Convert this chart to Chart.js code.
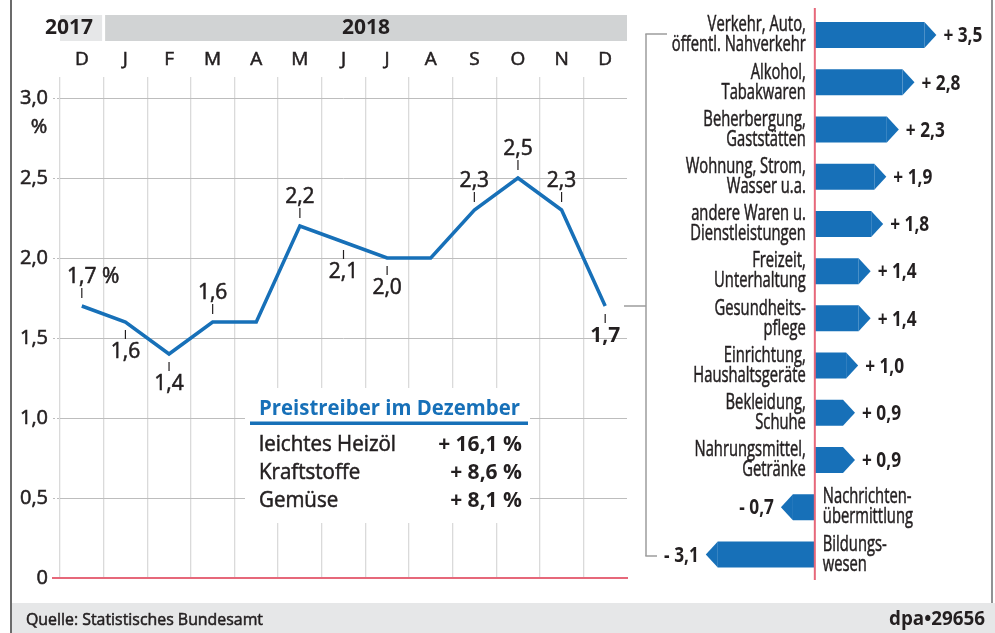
<!DOCTYPE html>
<html>
<head>
<meta charset="utf-8">
<script src="https://cdn.jsdelivr.net/npm/chart.js@4.4.1/dist/chart.umd.min.js"></script>
<style>
html, body { margin: 0; padding: 0; background: #fff; }
#wrap { position: relative; width: 995px; height: 633px; overflow: hidden; }
#lineChart { position: absolute; left: 0; top: 0; }
#barChart { position: absolute; left: 627px; top: 0; }
</style>
</head>
<body>
<div id="wrap">
  <canvas id="lineChart" width="995" height="633"></canvas>
  <canvas id="barChart" width="368" height="603"></canvas>
</div>
<script>
// --- data ---
var months = ['D', 'J', 'F', 'M', 'A', 'M', 'J', 'J', 'A', 'S', 'O', 'N', 'D'];
var rates = [1.7, 1.6, 1.4, 1.6, 1.6, 2.2, 2.1, 2.0, 2.0, 2.3, 2.5, 2.3, 1.7];
var yearLabels = ['2017', '2018'];
var yearSpans = [1, 12];

var driverTitle = 'Preistreiber im Dezember';
var driverNames = ['leichtes Heizöl', 'Kraftstoffe', 'Gemüse'];
var driverValues = [16.1, 8.6, 8.1];

var groupLines = [
    ['Verkehr, Auto,', 'öffentl. Nahverkehr'],
    ['Alkohol,', 'Tabakwaren'],
    ['Beherbergung,', 'Gaststätten'],
    ['Wohnung, Strom,', 'Wasser u.a.'],
    ['andere Waren u.', 'Dienstleistungen'],
    ['Freizeit,', 'Unterhaltung'],
    ['Gesundheits-', 'pflege'],
    ['Einrichtung,', 'Haushaltsgeräte'],
    ['Bekleidung,', 'Schuhe'],
    ['Nahrungsmittel,', 'Getränke'],
    ['Nachrichten-', 'übermittlung'],
    ['Bildungs-', 'wesen']
];
var changes = [3.5, 2.8, 2.3, 1.9, 1.8, 1.4, 1.4, 1.0, 0.9, 0.9, -0.7, -3.1];

var sourceText = 'Quelle: Statistisches Bundesamt';
var creditText = 'dpa\u202229656';

// --- styles ---
var INK = '#231f20';
var BLUE = '#1770b8';
var PINK = '#e6687a';
var GRID = '#dadada';
var DOT = '#bdbdbd';
var FONT = '"Open Sans", "Noto Sans", sans-serif';
var REG = '';
var THICK = 0.55;   // faux medium weight for the regular text

function fmt(v) {
    return v === 0 ? '0' : v.toFixed(1).replace('.', ',');
}

function drawText(ctx, s, x, y, font, color, align, sx) {
    ctx.save();
    ctx.font = font;
    ctx.fillStyle = color;
    ctx.textBaseline = 'middle';
    ctx.textAlign = align || 'left';
    ctx.translate(x, y);
    ctx.scale(sx || 1, 1);
    ctx.fillText(s, 0, 0);
    if (font.indexOf('bold') === -1) {
        ctx.strokeStyle = color;
        ctx.lineWidth = THICK;
        ctx.strokeText(s, 0, 0);
    }
    ctx.restore();
}

// horizontal squeeze so a sample string fits the width seen in the print
function squeeze(ctx, font, sample, width) {
    ctx.save();
    ctx.font = font;
    var w = ctx.measureText(sample).width;
    ctx.restore();
    return Math.min(1, width / w);
}

function line(ctx, x1, y1, x2, y2, color, w) {
    ctx.save();
    ctx.strokeStyle = color;
    ctx.lineWidth = w;
    ctx.beginPath();
    ctx.moveTo(x1, y1);
    ctx.lineTo(x2, y2);
    ctx.stroke();
    ctx.restore();
}

var lineDecor = {
    id: 'lineDecor',
    afterDraw: function(chart, args, opts) {
        var ctx = chart.ctx, xs = chart.scales.x, ys = chart.scales.y, area = chart.chartArea;
        var cell = xs.getPixelForValue(1) - xs.getPixelForValue(0);

        // year header
        var start = 0;
        yearLabels.forEach(function(lab, k) {
            var n = yearSpans[k];
            var left = xs.getPixelForValue(start) - cell / 2 + (k > 0 ? 1.5 : 0);
            var right = xs.getPixelForValue(start + n - 1) + cell / 2 - (k < yearLabels.length - 1 ? 1.5 : 0);
            ctx.fillStyle = k === 0 ? '#e6e7e8' : '#d1d3d4';
            ctx.fillRect(left, 15, right - left, 26);
            if (k === 0) drawText(ctx, lab, right - 9, 28, 'bold 21px ' + FONT, INK, 'right');
            else drawText(ctx, lab, (left + right) / 2, 28, 'bold 21px ' + FONT, INK, 'center');
            start += n;
        });

        // month letters
        months.forEach(function(m, i) {
            drawText(ctx, m, xs.getPixelForValue(i), 60, REG + '19px ' + FONT, INK, 'center');
        });

        // "%" under the top tick
        drawText(ctx, '%', 39, 127, REG + '20px ' + FONT, INK, 'center');

        // zero line
        var y0 = ys.getPixelForValue(0);
        line(ctx, 52, y0, area.right + 1, y0, PINK, 2);

        // point labels with small leader ticks
        rates.forEach(function(v, i) {
            var side = opts.sides[i];
            if (!side) return;
            var px = xs.getPixelForValue(i), py = ys.getPixelForValue(v);
            var last = i === rates.length - 1;
            var font = (last ? 'bold ' : REG) + '21px ' + FONT;
            var ly;
            if (side === 'up') {
                line(ctx, px, py - 8, px, py - 18, INK, 1.2);
                ly = py - 29;
            } else {
                line(ctx, px, py + 8, px, py + 17, INK, 1.2);
                ly = py + 30;
            }
            var s = fmt(v);
            if (i === 0) {
                ctx.save();
                ctx.font = font;
                var w = ctx.measureText(s).width;
                ctx.restore();
                drawText(ctx, s + ' %', px - w / 2, ly, font, INK, 'left');
            } else {
                drawText(ctx, s, px, ly, font, INK, 'center');
            }
        });

        // inset box
        ctx.fillStyle = '#fff';
        ctx.fillRect(245, 388, 285, 135);
        var tFont = 'bold 21px ' + FONT;
        drawText(ctx, driverTitle, 259, 409, tFont, BLUE, 'left', squeeze(ctx, tFont, driverTitle, 261));
        ctx.fillStyle = BLUE;
        ctx.fillRect(250, 421.5, 278, 3.5);
        var rFont = REG + '21px ' + FONT, vFont = 'bold 21px ' + FONT;
        var rsx = squeeze(ctx, rFont, driverNames[0], 137);
        var vsx = squeeze(ctx, vFont, '+ 16,1 %', 85);
        driverNames.forEach(function(n, k) {
            var y = 445 + k * 28;
            drawText(ctx, n, 259, y, rFont, INK, 'left', rsx);
            drawText(ctx, '+ ' + fmt(driverValues[k]) + ' %', 522, y, vFont, INK, 'right', vsx);
        });

        // bracket linking the last value to the breakdown
        var lastY = ys.getPixelForValue(rates[rates.length - 1]);
        line(ctx, 624, lastY, 646, lastY, '#9d9d9d', 1.5);
        line(ctx, 646, 34, 646, 556, '#9d9d9d', 1.5);
        line(ctx, 645.3, 34, 667, 34, '#9d9d9d', 1.5);
        line(ctx, 645.3, 556, 657, 556, '#9d9d9d', 1.5);

        // frame and footer
        ctx.fillStyle = '#e6e7e8';
        ctx.fillRect(12, 603, 983, 30);
        line(ctx, 11, 0, 11, 633, '#3a3a3a', 1.5);
        line(ctx, 992, 0, 992, 603, '#6d6e71', 1.5);
        var sFont = REG + '17px ' + FONT;
        drawText(ctx, sourceText, 26, 620, sFont, INK, 'left', squeeze(ctx, sFont, sourceText, 237));
        var cFont = 'bold 19px ' + FONT;
        drawText(ctx, creditText, 985, 620, cFont, INK, 'right', squeeze(ctx, cFont, creditText, 96));
    }
};

new Chart(document.getElementById('lineChart'), {
    type: 'line',
    data: {
        labels: months,
        datasets: [{
            data: rates,
            borderColor: BLUE,
            borderWidth: 3.5,
            pointRadius: 0,
            tension: 0,
            borderJoinStyle: 'miter',
            fill: false
        }]
    },
    options: {
        responsive: false,
        animation: false,
        events: [],
        layout: { padding: { top: 0, left: 0, right: 368, bottom: 55 } },
        plugins: {
            legend: { display: false },
            tooltip: { enabled: false },
            lineDecor: {
                sides: ['up', 'down', 'down', 'up', '', 'up', 'down', 'down', '', 'up', 'up', 'up', 'down']
            }
        },
        scales: {
            x: {
                position: 'top',
                offset: true,
                ticks: { display: false },
                border: { display: false },
                grid: {
                    offset: true,
                    color: function(c) { return c.type === 'tick' ? GRID : 'rgba(0,0,0,0)'; },
                    lineWidth: 1.3,
                    drawTicks: false
                },
                afterFit: function(s) { s.height = 77; }
            },
            y: {
                min: 0,
                max: 501 / 160,
                border: { display: false },
                ticks: {
                    stepSize: 0.5,
                    includeBounds: false,
                    padding: 5,
                    color: INK,
                    textStrokeColor: INK,
                    textStrokeWidth: THICK,
                    font: { family: FONT, size: 20 },
                    callback: function(v) { return fmt(v); }
                },
                grid: {
                    color: function(c) { return c.tick && c.tick.value === 0 ? 'rgba(0,0,0,0)' : DOT; },
                    tickColor: DOT,
                    borderDash: [2, 2],
                    tickBorderDash: [2, 2],
                    tickLength: 7,
                    lineWidth: 1
                },
                afterFit: function(s) { s.width = 60; }
            }
        }
    },
    plugins: [lineDecor]
});

var barDecor = {
    id: 'barDecor',
    afterDatasetsDraw: function(chart) {
        var ctx = chart.ctx, meta = chart.getDatasetMeta(0);
        ctx.save();
        ctx.fillStyle = BLUE;
        meta.data.forEach(function(bar, i) {
            var p = bar.getProps(['x', 'y', 'height'], true);
            var s = changes[i] < 0 ? -1 : 1;
            ctx.beginPath();
            ctx.moveTo(p.x, p.y - p.height / 2);
            ctx.lineTo(p.x + s * 12, p.y);
            ctx.lineTo(p.x, p.y + p.height / 2);
            ctx.closePath();
            ctx.fill();
        });
        ctx.restore();
    },
    afterDraw: function(chart) {
        var ctx = chart.ctx, meta = chart.getDatasetMeta(0);
        var zx = chart.scales.x.getPixelForValue(0);
        line(ctx, zx, 8, zx, 580, PINK, 2);

        var lFont = REG + '22px ' + FONT, vFont = 'bold 22px ' + FONT;
        var lsx = squeeze(ctx, lFont, 'öffentl. Nahverkehr', 134);
        var vsx = squeeze(ctx, vFont, '+ 3,5', 39);
        meta.data.forEach(function(bar, i) {
            var p = bar.getProps(['x', 'y'], true);
            var v = changes[i];
            var txt = (v < 0 ? '- ' : '+ ') + fmt(Math.abs(v));
            var lines = chart.data.labels[i];
            if (v >= 0) {
                drawText(ctx, txt, p.x + 19, p.y + 1, vFont, INK, 'left', vsx);
                drawText(ctx, lines[0], zx - 9, p.y - 10, lFont, INK, 'right', lsx);
                drawText(ctx, lines[1], zx - 9, p.y + 10, lFont, INK, 'right', lsx);
            } else {
                drawText(ctx, txt, p.x - 19, p.y + 1, vFont, INK, 'right', vsx);
                drawText(ctx, lines[0], zx + 8, p.y - 10, lFont, INK, 'left', lsx);
                drawText(ctx, lines[1], zx + 8, p.y + 10, lFont, INK, 'left', lsx);
            }
        });
    }
};

new Chart(document.getElementById('barChart'), {
    type: 'bar',
    data: {
        labels: groupLines,
        datasets: [{
            data: changes,
            backgroundColor: BLUE,
            borderWidth: 0,
            categoryPercentage: 1,
            barPercentage: 0.55
        }]
    },
    options: {
        indexAxis: 'y',
        responsive: false,
        animation: false,
        events: [],
        layout: { padding: { left: 0, right: 8, top: 11.5, bottom: 25 } },
        plugins: {
            legend: { display: false },
            tooltip: { enabled: false }
        },
        scales: {
            x: { type: 'linear', min: -6, max: 5.5, display: false },
            y: { display: false }
        }
    },
    plugins: [barDecor]
});
</script>
</body>
</html>
